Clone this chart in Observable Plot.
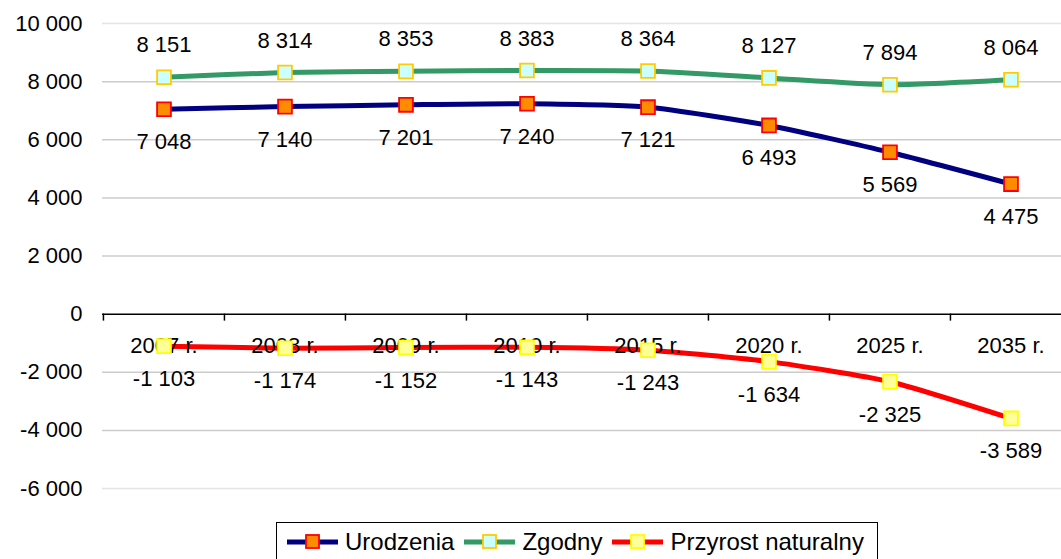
<!DOCTYPE html>
<html>
<head>
<meta charset="utf-8">
<script src="https://cdn.jsdelivr.net/npm/d3@7"></script>
<script src="https://cdn.jsdelivr.net/npm/@observablehq/plot@0.6"></script>
<style>
  html, body { margin: 0; padding: 0; background: #fff; overflow: hidden; width: 1061px; height: 559px; }
  #wrap { position: relative; width: 1061px; height: 559px; font-family: "Liberation Sans", Arial, sans-serif; }
  #legend { position: absolute; left: 276px; top: 522px; width: 602px; height: 44px; border: 1.5px solid #000; background: #fff;
            display: flex; align-items: center; font-size: 24px; color: #000; box-sizing: border-box; padding-left: 10px; padding-bottom: 4px; }
  #legend .item { display: flex; align-items: center; margin-right: 10px; }
  #legend svg { margin-right: 7px; }
</style>
</head>
<body>
<div id="wrap"><div id="chart"></div><div id="legend"></div></div>
<script>
const categories = ["2007 r.", "2008 r.", "2009 r.", "2010 r.", "2015 r.", "2020 r.", "2025 r.", "2035 r."];
const urodzenia = [7048, 7140, 7201, 7240, 7121, 6493, 5569, 4475];
const zgodny = [8151, 8314, 8353, 8383, 8364, 8127, 7894, 8064];
const przyrost = [-1103, -1174, -1152, -1143, -1243, -1634, -2325, -3589];
const yTicks = [-6000, -4000, -2000, 0, 2000, 4000, 6000, 8000, 10000];
const seriesNames = ["Urodzenia", "Zgodny", "Przyrost naturalny"];

const styles = {
  "Urodzenia": {line: "#000080", fill: "#FF8C00", stroke: "#FF0000", dy: 33},
  "Zgodny": {line: "#339966", fill: "#CCFFFF", stroke: "#FFCC00", dy: -32},
  "Przyrost naturalny": {line: "#FF0000", fill: "#FFFF99", stroke: "#FFFF00", dy: 33}
};
const seriesValues = [urodzenia, zgodny, przyrost];

const fmt = d3.formatLocale({decimal: ",", thousands: " ", grouping: [3], currency: ["", ""], minus: "-"}).format(",d");

const data = [];
seriesNames.forEach((s, i) => categories.forEach((c, j) => data.push({series: s, cat: c, value: seriesValues[i][j]})));

const marks = [
  Plot.ruleY(yTicks.filter(d => d !== 0), {stroke: d => (d === -6000 || d === 10000) ? "#e4e4e4" : "#cccccc", strokeWidth: 1.5}),
  Plot.axisY({ticks: yTicks, tickSize: 0, tickPadding: 20, tickFormat: fmt, fontSize: 22, label: null}),
  Plot.ruleY([0], {stroke: "#000", strokeWidth: 1.5}),
  Plot.ruleX(categories, {x: d => d, y1: 0, y2: 0, insetBottom: -7, dx: -969 / 16, stroke: "#000", strokeWidth: 1.5})
];
seriesNames.forEach(s => {
  const st = styles[s];
  const d = data.filter(e => e.series === s);
  marks.push(Plot.line(d, {x: "cat", y: "value", stroke: st.line, strokeWidth: 5, curve: "cardinal", tension: 0.4}));
});
marks.push(Plot.text(categories, {x: d => d, y: 0, dy: 32, text: d => d, fontSize: 22, fill: "#000"}));
seriesNames.forEach(s => {
  const st = styles[s];
  const d = data.filter(e => e.series === s);
  marks.push(Plot.dot(d, {x: "cat", y: "value", symbol: "square", r: 7.8, fill: st.fill, stroke: st.stroke, strokeWidth: 1.8}));
  marks.push(Plot.text(d, {x: "cat", y: "value", text: e => fmt(e.value), dy: st.dy, fontSize: 22, fill: "#000"}));
});

const chart = Plot.plot({
  width: 1061,
  height: 559,
  marginLeft: 102,
  marginRight: -10,
  marginTop: 23,
  marginBottom: 71,
  style: {fontFamily: "'Liberation Sans', Arial, sans-serif", fontSize: "22px", overflow: "hidden", background: "#fff"},
  x: {type: "band", domain: categories, padding: 0, axis: null},
  y: {domain: [-6000, 10000], axis: null},
  marks
});
document.getElementById("chart").appendChild(chart);

const legend = document.getElementById("legend");
seriesNames.forEach(s => {
  const st = styles[s];
  const item = document.createElement("div");
  item.className = "item";
  item.innerHTML = `<svg width="51" height="18"><line x1="0" x2="51" y1="9" y2="9" stroke="${st.line}" stroke-width="5"/><rect x="19" y="2" width="13" height="13" fill="${st.fill}" stroke="${st.stroke}" stroke-width="1.8"/></svg><span>${s}</span>`;
  legend.appendChild(item);
});
</script>
</body>
</html>
